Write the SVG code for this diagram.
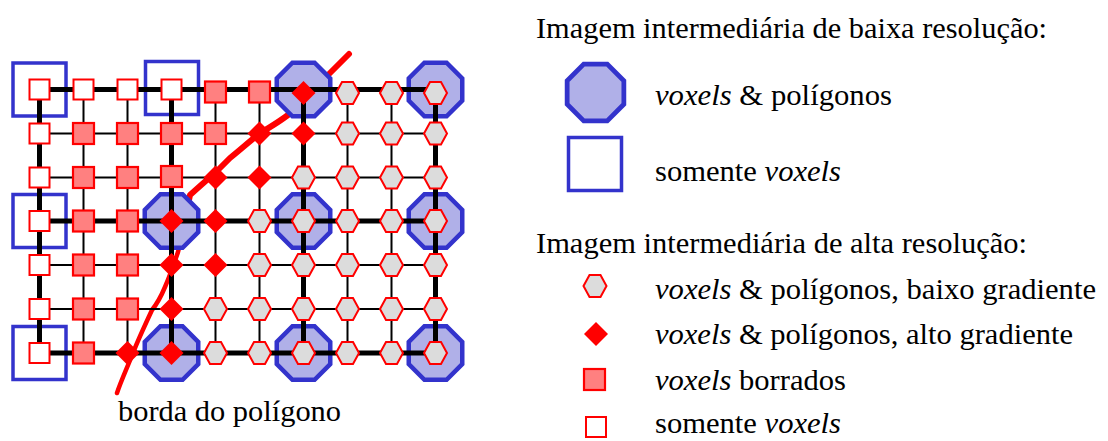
<svg xmlns="http://www.w3.org/2000/svg" xmlns:xlink="http://www.w3.org/1999/xlink" width="1108" height="441" viewBox="0 0 1108 441">
  <style>
    text { font-family: 'Liberation Serif', 'DejaVu Serif', 'Noto Serif', serif; font-size: 29.5px; fill: #000; }
    .it { font-style: italic; }
    .thick { stroke: #000; stroke-width: 5; fill: none; }
    .thin { stroke: #000; stroke-width: 2; fill: none; }
    .octS { fill: #b0b0e8; stroke: #3333cc; stroke-width: 4.5; stroke-linejoin: miter; }
    .bsqS { fill: none; stroke: #3333cc; stroke-width: 3.5; }
    .hexS { fill: #dcdcdc; stroke: #ff0000; stroke-width: 2; }
    .diaS { fill: #ff0000; stroke: none; }
    .psqS { fill: #ff8080; stroke: #ff0000; stroke-width: 2.2; }
    .wsqS { fill: #ffffff; stroke: #ff0000; stroke-width: 2; }
    .edge { fill: none; stroke: #ff0000; stroke-linecap: round; stroke-linejoin: round; }
  </style>
  <defs>
    <polygon id="oct" class="octS" points="26.75,11.08 11.08,26.75 -11.08,26.75 -26.75,11.08 -26.75,-11.08 -11.08,-26.75 11.08,-26.75 26.75,-11.08"/>
    <rect id="bsq" class="bsqS" x="-26.5" y="-26.5" width="53" height="53"/>
    <polygon id="hex" class="hexS" points="-11.5,0 -5.5,-11 5.5,-11 11.5,0 5.5,11 -5.5,11"/>
    <polygon id="dia" class="diaS" points="0,-12 12,0 0,12 -12,0"/>
    <rect id="psq" class="psqS" x="-10.5" y="-10.5" width="21" height="21"/>
    <rect id="wsq" class="wsqS" x="-10" y="-10" width="20" height="20"/>
  </defs>

  <!-- polygon border stroke, drawn beneath the low-resolution cells -->
  <g id="borda">
    <path class="edge" stroke-width="6" d="M349,54 L288,115 C276,124 268,128 259,134 C250,141 240,150 230,158 L216,172 C208,179 200,186 190,195 L181,240"/>
    <path class="edge" stroke-width="4.5" d="M181,240 L178,252 C172,270 168,280 165,287 C160,299 156,305 152,310 C145,325 138,340 133,353 C127,368 121,381 117,393"/>
  </g>

  <!-- low-resolution cells -->
  <g id="low-res">
    <g id="lo-r1c1"><use xlink:href="#bsq" x="39.5" y="89.5"/></g>
    <g id="lo-r1c4"><use xlink:href="#bsq" x="172" y="88"/></g>
    <g id="lo-r4c1"><use xlink:href="#bsq" x="39.5" y="221"/></g>
    <g id="lo-r7c1"><use xlink:href="#bsq" x="39.5" y="353"/></g>
    <g id="lo-r4c4"><use xlink:href="#oct" x="171.5" y="221"/></g>
    <g id="lo-r7c4"><use xlink:href="#oct" x="171.5" y="353"/></g>
    <g id="lo-r1c7"><use xlink:href="#oct" x="303.5" y="89.5"/></g>
    <g id="lo-r4c7"><use xlink:href="#oct" x="303.5" y="221"/></g>
    <g id="lo-r7c7"><use xlink:href="#oct" x="303.5" y="353"/></g>
    <g id="lo-r1c10"><use xlink:href="#oct" x="435.5" y="89.5"/></g>
    <g id="lo-r4c10"><use xlink:href="#oct" x="435.5" y="221"/></g>
    <g id="lo-r7c10"><use xlink:href="#oct" x="435.5" y="353"/></g>
  </g>

  <!-- grid connectors -->
  <g id="connectors">
    <path class="thin" d="M39.5,133.5 H435.5 M39.5,177.5 H435.5 M39.5,265 H435.5 M39.5,309 H435.5"/>
    <path class="thin" d="M83.5,89.5 V353 M127.5,89.5 V353 M215.5,89.5 V353 M259.5,89.5 V353 M347.5,89.5 V353 M391.5,89.5 V353"/>
    <path class="thick" d="M39.5,89.5 H435.5 M39.5,221 H435.5 M39.5,353 H435.5"/>
    <path class="thick" d="M39.5,89.5 V353 M171.5,89.5 V353 M303.5,89.5 V353 M435.5,89.5 V353"/>
  </g>

  <!-- high-resolution cells -->
  <g id="high-res">
    <!-- row 1 -->
    <g id="hi-r1c1"><use xlink:href="#wsq" x="39.5" y="89.5"/></g>
    <g id="hi-r1c2"><use xlink:href="#wsq" x="83.5" y="89.5"/></g>
    <g id="hi-r1c3"><use xlink:href="#wsq" x="127.5" y="89.5"/></g>
    <g id="hi-r1c4"><use xlink:href="#wsq" x="171.5" y="89.5"/></g>
    <g id="hi-r1c5"><use xlink:href="#psq" x="215.5" y="92"/></g>
    <g id="hi-r1c6"><use xlink:href="#psq" x="259.5" y="92"/></g>
    <g id="hi-r1c7"><use xlink:href="#dia" x="303.5" y="93"/></g>
    <g id="hi-r1c8"><use xlink:href="#hex" x="347.5" y="93"/></g>
    <g id="hi-r1c9"><use xlink:href="#hex" x="391.5" y="93"/></g>
    <g id="hi-r1c10"><use xlink:href="#hex" x="435.5" y="93"/></g>
    <!-- row 2 -->
    <g id="hi-r2c1"><use xlink:href="#wsq" x="39.5" y="133.5"/></g>
    <g id="hi-r2c2"><use xlink:href="#psq" x="83.5" y="133.5"/></g>
    <g id="hi-r2c3"><use xlink:href="#psq" x="127.5" y="133.5"/></g>
    <g id="hi-r2c4"><use xlink:href="#psq" x="171.5" y="133.5"/></g>
    <g id="hi-r2c5"><use xlink:href="#psq" x="215.5" y="133.5"/></g>
    <g id="hi-r2c6"><use xlink:href="#dia" x="259.5" y="133.5"/></g>
    <g id="hi-r2c7"><use xlink:href="#dia" x="303.5" y="133.5"/></g>
    <g id="hi-r2c8"><use xlink:href="#hex" x="347.5" y="133.5"/></g>
    <g id="hi-r2c9"><use xlink:href="#hex" x="391.5" y="133.5"/></g>
    <g id="hi-r2c10"><use xlink:href="#hex" x="435.5" y="133.5"/></g>
    <!-- row 3 -->
    <g id="hi-r3c1"><use xlink:href="#wsq" x="39.5" y="177.5"/></g>
    <g id="hi-r3c2"><use xlink:href="#psq" x="83.5" y="177.5"/></g>
    <g id="hi-r3c3"><use xlink:href="#psq" x="127.5" y="177.5"/></g>
    <g id="hi-r3c4"><use xlink:href="#psq" x="171.5" y="176.5"/></g>
    <g id="hi-r3c5"><use xlink:href="#dia" x="215.5" y="177.5"/></g>
    <g id="hi-r3c6"><use xlink:href="#dia" x="259.5" y="177.5"/></g>
    <g id="hi-r3c7"><use xlink:href="#hex" x="303.5" y="177.5"/></g>
    <g id="hi-r3c8"><use xlink:href="#hex" x="347.5" y="177.5"/></g>
    <g id="hi-r3c9"><use xlink:href="#hex" x="391.5" y="177.5"/></g>
    <g id="hi-r3c10"><use xlink:href="#hex" x="435.5" y="177.5"/></g>
    <!-- row 4 -->
    <g id="hi-r4c1"><use xlink:href="#wsq" x="39.5" y="221"/></g>
    <g id="hi-r4c2"><use xlink:href="#psq" x="83.5" y="221"/></g>
    <g id="hi-r4c3"><use xlink:href="#psq" x="127.5" y="221"/></g>
    <g id="hi-r4c4"><use xlink:href="#dia" x="171.5" y="221"/></g>
    <g id="hi-r4c5"><use xlink:href="#dia" x="215.5" y="221"/></g>
    <g id="hi-r4c6"><use xlink:href="#hex" x="259.5" y="221"/></g>
    <g id="hi-r4c7"><use xlink:href="#hex" x="303.5" y="221"/></g>
    <g id="hi-r4c8"><use xlink:href="#hex" x="347.5" y="221"/></g>
    <g id="hi-r4c9"><use xlink:href="#hex" x="391.5" y="221"/></g>
    <g id="hi-r4c10"><use xlink:href="#hex" x="435.5" y="221"/></g>
    <!-- row 5 -->
    <g id="hi-r5c1"><use xlink:href="#wsq" x="39.5" y="265"/></g>
    <g id="hi-r5c2"><use xlink:href="#psq" x="83.5" y="265"/></g>
    <g id="hi-r5c3"><use xlink:href="#psq" x="127.5" y="265"/></g>
    <g id="hi-r5c4"><use xlink:href="#dia" x="171.5" y="265"/></g>
    <g id="hi-r5c5"><use xlink:href="#dia" x="215.5" y="265"/></g>
    <g id="hi-r5c6"><use xlink:href="#hex" x="259.5" y="265"/></g>
    <g id="hi-r5c7"><use xlink:href="#hex" x="303.5" y="265"/></g>
    <g id="hi-r5c8"><use xlink:href="#hex" x="347.5" y="265"/></g>
    <g id="hi-r5c9"><use xlink:href="#hex" x="391.5" y="265"/></g>
    <g id="hi-r5c10"><use xlink:href="#hex" x="435.5" y="265"/></g>
    <!-- row 6 -->
    <g id="hi-r6c1"><use xlink:href="#wsq" x="39.5" y="309"/></g>
    <g id="hi-r6c2"><use xlink:href="#psq" x="83.5" y="309"/></g>
    <g id="hi-r6c3"><use xlink:href="#psq" x="127.5" y="309"/></g>
    <g id="hi-r6c4"><use xlink:href="#dia" x="171.5" y="309"/></g>
    <g id="hi-r6c5"><use xlink:href="#hex" x="215.5" y="309"/></g>
    <g id="hi-r6c6"><use xlink:href="#hex" x="259.5" y="309"/></g>
    <g id="hi-r6c7"><use xlink:href="#hex" x="303.5" y="309"/></g>
    <g id="hi-r6c8"><use xlink:href="#hex" x="347.5" y="309"/></g>
    <g id="hi-r6c9"><use xlink:href="#hex" x="391.5" y="309"/></g>
    <g id="hi-r6c10"><use xlink:href="#hex" x="435.5" y="309"/></g>
    <!-- row 7 -->
    <g id="hi-r7c1"><use xlink:href="#wsq" x="39.5" y="353"/></g>
    <g id="hi-r7c2"><use xlink:href="#psq" x="83.5" y="353"/></g>
    <g id="hi-r7c3"><use xlink:href="#dia" x="127.5" y="353"/></g>
    <g id="hi-r7c4"><use xlink:href="#dia" x="171.5" y="353"/></g>
    <g id="hi-r7c5"><use xlink:href="#hex" x="215.5" y="353"/></g>
    <g id="hi-r7c6"><use xlink:href="#hex" x="259.5" y="353"/></g>
    <g id="hi-r7c7"><use xlink:href="#hex" x="303.5" y="353"/></g>
    <g id="hi-r7c8"><use xlink:href="#hex" x="347.5" y="353"/></g>
    <g id="hi-r7c9"><use xlink:href="#hex" x="391.5" y="353"/></g>
    <g id="hi-r7c10"><use xlink:href="#hex" x="435.5" y="353"/></g>
  </g>

  <g id="caption">
    <text x="118" y="421" textLength="223" lengthAdjust="spacingAndGlyphs">borda do polígono</text>
  </g>

  <!-- key -->
  <g id="legend">
    <text x="536" y="38" textLength="511" lengthAdjust="spacingAndGlyphs">Imagem intermediária de baixa resolução:</text>
    <g id="key-oct"><use xlink:href="#oct" transform="translate(595.5,92.5) scale(1.06)"/></g>
    <text x="655" y="105" textLength="237" lengthAdjust="spacingAndGlyphs"><tspan class="it">voxels</tspan> &amp; polígonos</text>
    <g id="key-bsq"><use xlink:href="#bsq" x="595" y="164"/></g>
    <text x="655" y="181" textLength="186" lengthAdjust="spacingAndGlyphs">somente <tspan class="it">voxels</tspan></text>

    <text x="536" y="253" textLength="491" lengthAdjust="spacingAndGlyphs">Imagem intermediária de alta resolução:</text>
    <g id="key-hex"><use xlink:href="#hex" x="595" y="286"/></g>
    <text x="655" y="299" textLength="441" lengthAdjust="spacingAndGlyphs"><tspan class="it">voxels</tspan> &amp; polígonos, baixo gradiente</text>
    <g id="key-dia"><use xlink:href="#dia" x="596" y="334"/></g>
    <text x="655" y="344" textLength="418" lengthAdjust="spacingAndGlyphs"><tspan class="it">voxels</tspan> &amp; polígonos, alto gradiente</text>
    <g id="key-psq"><use xlink:href="#psq" x="594.5" y="379.5"/></g>
    <text x="655" y="390" textLength="191" lengthAdjust="spacingAndGlyphs"><tspan class="it">voxels</tspan> borrados</text>
    <g id="key-wsq"><use xlink:href="#wsq" x="596" y="427"/></g>
    <text x="655" y="433" textLength="186" lengthAdjust="spacingAndGlyphs">somente <tspan class="it">voxels</tspan></text>
  </g>
</svg>
